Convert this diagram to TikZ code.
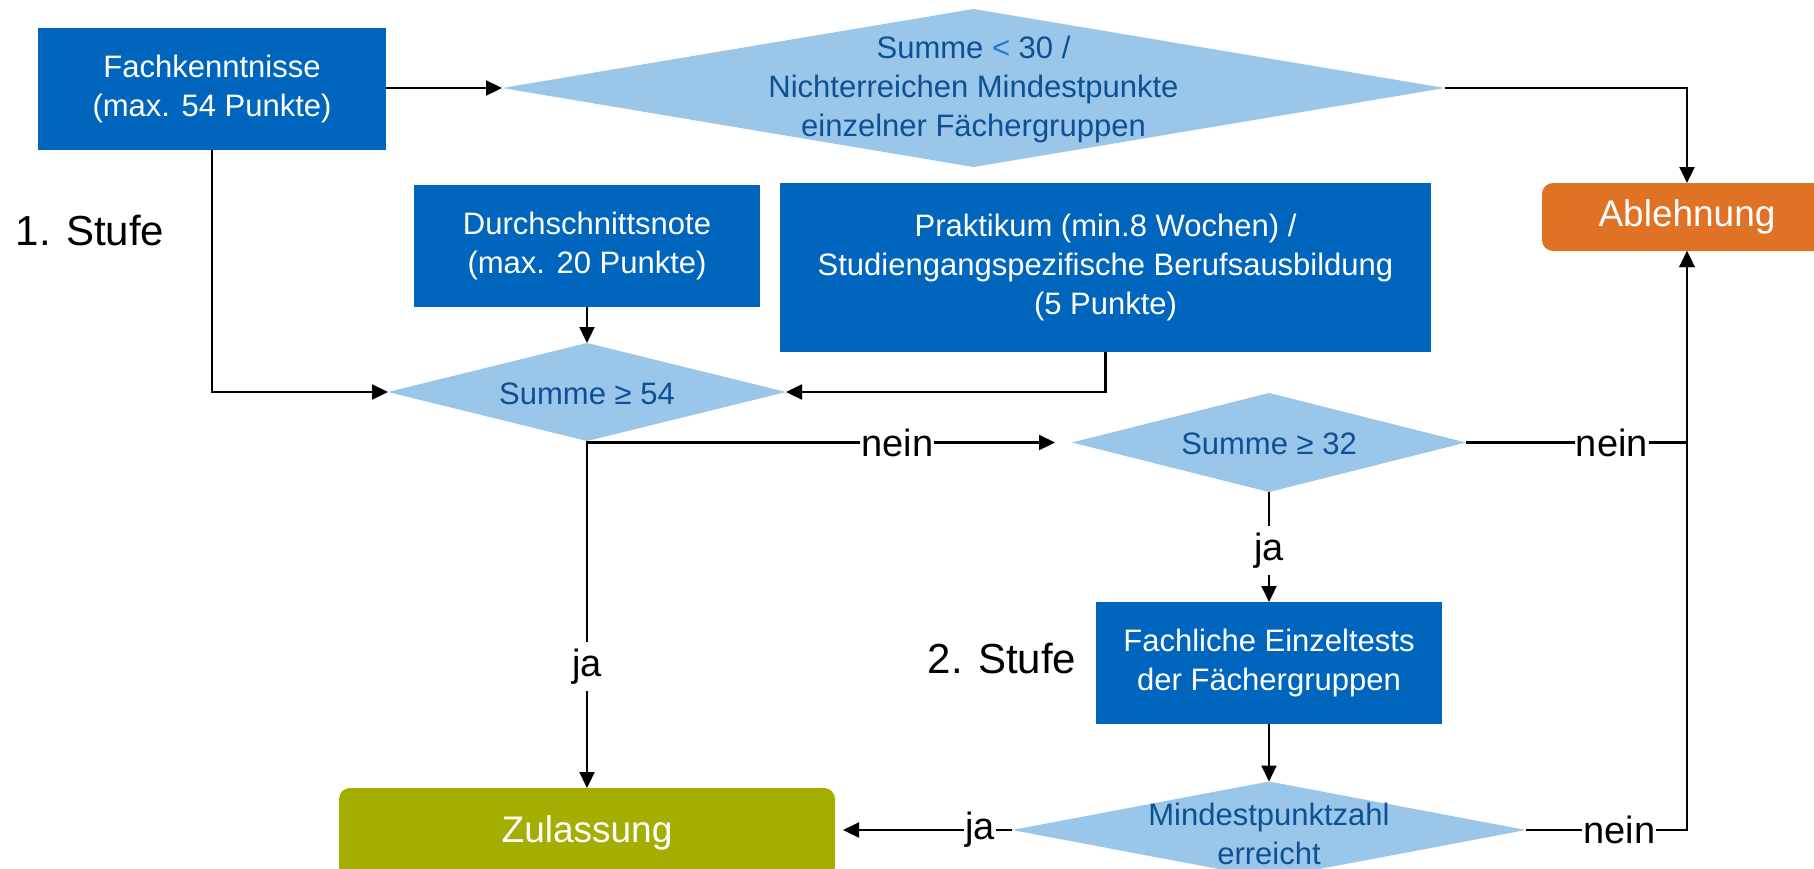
\documentclass[tikz,border=0pt]{standalone}
\usepackage{fontspec}
\setmainfont{Liberation Sans}
\usetikzlibrary{shapes.geometric,arrows.meta}
\definecolor{boxblue}{RGB}{0,102,189}
\definecolor{diablue}{RGB}{153,198,233}
\definecolor{diatext}{RGB}{14,80,148}
\definecolor{ltblue}{RGB}{30,120,220}
\definecolor{orangebox}{RGB}{224,114,37}
\definecolor{olivebox}{RGB}{163,174,0}
\tikzset{
  box/.style={rectangle, fill=boxblue, text=white, inner sep=0pt, outer sep=0pt,
    align=center, font=\fontsize{31}{39}\selectfont},
  dia/.style={diamond, fill=diablue, inner sep=0pt, outer sep=0pt},
  diatxt/.style={text=diatext, align=center, inner sep=0pt, font=\fontsize{31}{39}\selectfont},
  endbox/.style={rectangle, rounded corners=11pt, text=white, inner sep=0pt, outer sep=0pt,
    font=\fontsize{37}{37}\selectfont},
  arr/.style={draw=black, line width=2.2pt, -{Triangle[length=16pt,width=15pt]}},
  lbl/.style={fill=white, inner xsep=1pt, inner ysep=7pt, text=black,
    font=\fontsize{38}{38}\selectfont},
  stage/.style={text=black, inner sep=0pt, font=\fontsize{42}{42}\selectfont},
}
\begin{document}
\begin{tikzpicture}[x=1pt, y=-1pt]
  \useasboundingbox (0,0) rectangle (1814,868);
  \clip (0,0) rectangle (1814,868);

  % boxes
  \node[box, minimum width=348pt, minimum height=122pt] (fach) at (212,89)
    {Fachkenntnisse\\(max. 54 Punkte)};
  \node[box, minimum width=346pt, minimum height=122pt] (durch) at (587,246)
    {Durchschnittsnote\\(max. 20 Punkte)};
  \node[box, minimum width=651pt, minimum height=169pt] (prakt) at (1105.5,267.5)
    {Praktikum (min.8 Wochen) /\\Studiengangspezifische Berufsausbildung\\(5 Punkte)};
  \node[box, minimum width=346pt, minimum height=122pt] (fachl) at (1269,663)
    {Fachliche Einzeltests\\der Fächergruppen};
  \node[endbox, fill=orangebox, minimum width=290pt, minimum height=68pt] (ableh) at (1687,217)
    {Ablehnung};
  \node[endbox, fill=olivebox, minimum width=496pt, minimum height=90pt] (zul) at (587,833)
    {Zulassung};

  % diamonds
  \node[dia, minimum width=943pt, minimum height=158pt] (d30) at (973.5,88) {};
  \node[diatxt] (d30txt) at (973.5,89)
    {Summe {\color{ltblue}<} 30 /\\Nichterreichen Mindestpunkte\\einzelner Fächergruppen};
  \node[dia, minimum width=398pt, minimum height=98pt] (d54) at (587,392) {};
  \node[diatxt] (d54txt) at (587,394) {Summe ≥ 54};
  \node[dia, minimum width=394pt, minimum height=99pt] (d32) at (1269,442.5) {};
  \node[diatxt] (d32txt) at (1269,444) {Summe ≥ 32};
  \node[dia, minimum width=514pt, minimum height=97pt] (dmin) at (1269,830) {};
  \node[diatxt] (dmintxt) at (1269,834) {Mindestpunktzahl\\erreicht};

  % stage labels
  \node[stage] (st1) at (90,231) {1. Stufe};
  \node[stage] (st2) at (1002,658) {2. Stufe};

  % connectors
  \draw[arr] (fach.east |- d30.west) -- (d30.west);
  \draw[arr] (d30.east) -| (ableh.north);
  \draw[arr] (fach.south) |- (d54.west);
  \draw[arr] (durch.south) -- (d54.north);
  \draw[arr] (prakt.south) |- (d54.east);
  \draw[arr, shorten >=17pt] (d54.south) |- node[lbl, pos=0.82] {nein} (d32.west);
  \draw[arr] (d54.south) -- node[lbl, pos=0.65] {ja} (zul.north);
  \draw[arr] (d32.east) -| node[lbl, pos=0.33] {nein} (ableh.south);
  \draw[arr] (d32.south) -- node[lbl, pos=0.53] {ja} (fachl.north);
  \draw[arr] (fachl.south) -- (dmin.north);
  \draw[arr] (dmin.east) -| node[lbl, pos=0.29] {nein} (ableh.south);
  \draw[arr, shorten >=8pt] (dmin.west) -- node[lbl, pos=0.18] {ja} (dmin.west -| zul.east);
\end{tikzpicture}
\end{document}
